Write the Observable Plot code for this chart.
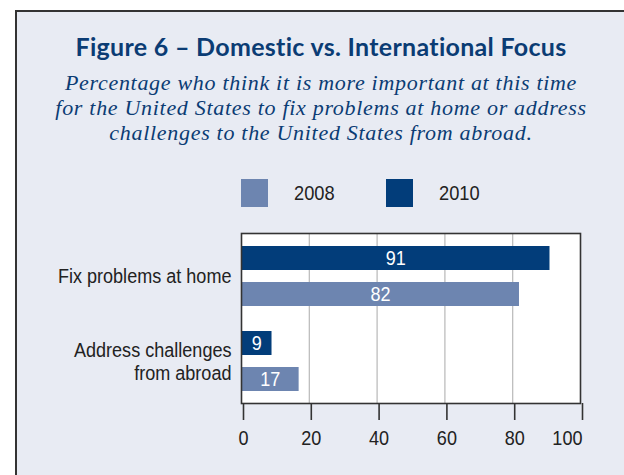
<!DOCTYPE html>
<html>
<head>
<meta charset="utf-8">
<script src="https://cdn.jsdelivr.net/npm/d3@7"></script>
<script src="https://cdn.jsdelivr.net/npm/@observablehq/plot@0.6"></script>
<style>
  html, body { margin: 0; padding: 0; background: #ffffff; }
  body { width: 624px; height: 475px; overflow: hidden; position: relative; }
  .box { position: absolute; left: 15px; top: 10px; width: 700px; height: 600px;
         background: #e8ebf3; border-left: 2px solid #333; border-top: 2px solid #333; }
  .title { position: absolute; left: 0; width: 642px; top: 31px; text-align: center;
           font-family: Lato, "Open Sans", sans-serif; font-weight: bold; font-size: 25px;
           letter-spacing: 0.3px; line-height: 30px; color: #0b3c74; white-space: nowrap; }
  .subtitle { position: absolute; left: 0; width: 642px; top: 69.5px; text-align: center;
              font-family: "Liberation Serif", "DejaVu Serif", serif; font-style: italic;
              font-size: 22px; letter-spacing: 0.7px; line-height: 25px; color: #0b3c74; white-space: nowrap; }
  .legend { position: absolute; top: 179px; left: 0; width: 624px; height: 30px;
            font-family: "Liberation Sans", Arial, sans-serif; font-size: 21px; color: #222; }
  .sw { position: absolute; top: 0; width: 27px; height: 28px; }
  .lt { position: absolute; top: 2px; line-height: 24px; transform: scaleX(0.87); transform-origin: left center; }
  #chart { position: absolute; left: 0; top: 220px; }
</style>
</head>
<body>
<div class="box"></div>
<div class="title">Figure 6 – Domestic vs. International Focus</div>
<div class="subtitle">Percentage who think it is more important at this time<br>for the United States to fix problems at home or address<br>challenges to the United States from abroad.</div>
<div class="legend" id="legend"></div>
<div id="chart"></div>
<script>
const categories = ["Fix problems at home", "Address challenges\nfrom abroad"];
const years = ["2008", "2010"];
const values2008 = [82, 17];
const values2010 = [91, 9];
const xTicks = [0, 20, 40, 60, 80, 100];
const colors = ["#6d85b0", "#023d7a"];

const rows = [];
categories.forEach((c, i) => {
  rows.push({category: c, year: "2010", value: values2010[i]});
  rows.push({category: c, year: "2008", value: values2008[i]});
});
const r2010 = rows.filter(d => d.year === "2010");
const r2008 = rows.filter(d => d.year === "2008");

// legend
const legend = document.getElementById("legend");
const legendPos = [[241, 294], [386, 439]];
years.forEach((y, i) => {
  const sw = document.createElement("div");
  sw.className = "sw";
  sw.style.left = legendPos[i][0] + "px";
  sw.style.background = colors[i];
  legend.appendChild(sw);
  const t = document.createElement("div");
  t.className = "lt";
  t.style.left = legendPos[i][1] + "px";
  t.textContent = y;
  legend.appendChild(t);
});

const font = "'Liberation Sans', Arial, sans-serif";
const chart = Plot.plot({
  width: 624,
  height: 255,
  marginLeft: 241,
  marginRight: 44,
  marginTop: 13,
  marginBottom: 72,
  style: {background: "transparent", fontFamily: font, fontSize: "21px", color: "#222"},
  x: {domain: [0, 100], axis: null},
  y: {domain: categories, padding: 0, axis: null},
  color: {domain: years, range: colors},
  marks: [
    Plot.frame({fill: "white", stroke: null}),
    Plot.gridX([20, 40, 60, 80], {stroke: "#b8b8b8", strokeOpacity: 1, strokeWidth: 1.2}),
    Plot.barX(r2010, {x: "value", y: "category", fill: "year", insetTop: 13, insetBottom: 48}),
    Plot.barX(r2008, {x: "value", y: "category", fill: "year", insetTop: 49, insetBottom: 12}),
    Plot.text(r2010, {x: d => d.value / 2, y: "category", text: "value", dy: -17.5, fill: "white", fontSize: 21}),
    Plot.text(r2008, {x: d => d.value / 2, y: "category", text: "value", dy: 18.5, fill: "white", fontSize: 21}),
    Plot.frame({stroke: "#333", strokeWidth: 1.6}),
    Plot.axisY({label: null, tickSize: 0, tickPadding: 10, fontSize: 21, lineHeight: 1.1, fill: "#222"}),
    Plot.axisX(xTicks.slice(0, -1), {label: null, tickSize: 17, tickPadding: 10, stroke: "#333", strokeWidth: 1.6, fontSize: 21, fill: "#222", dx: 2}),
    Plot.axisX(xTicks.slice(-1), {label: null, tickSize: 17, tickPadding: 10, stroke: "#333", strokeWidth: 1.6, fontSize: 21, fill: "#222", textAnchor: "end", dx: 2})
  ]
});

// condense text horizontally (narrow sans look) around each text's anchor point
chart.querySelectorAll("text").forEach(t => {
  const tr = t.getAttribute("transform") || "";
  t.setAttribute("transform", `${tr} scale(0.86,1)`);
});
document.getElementById("chart").appendChild(chart);
</script>
</body>
</html>
